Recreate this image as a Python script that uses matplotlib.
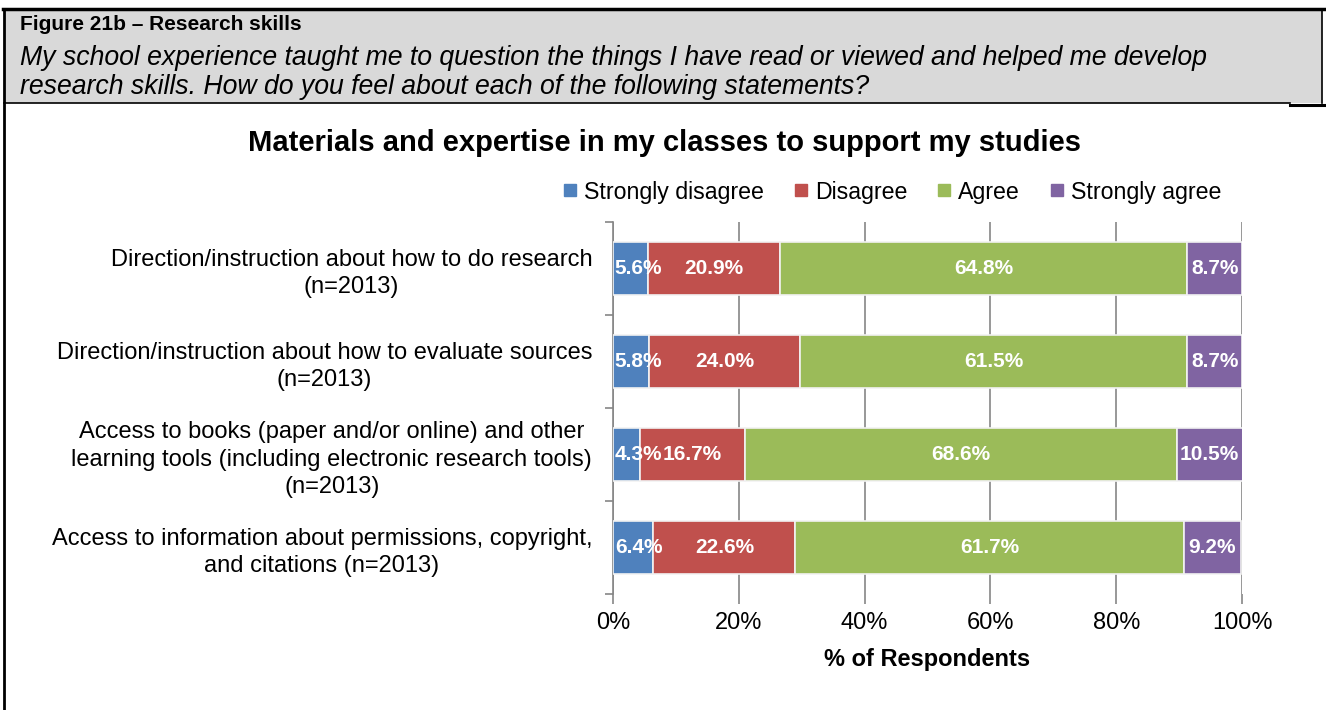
import matplotlib
matplotlib.use("Agg")
import matplotlib.pyplot as plt
from matplotlib.lines import Line2D
from matplotlib.patches import Rectangle
import numpy as np

plt.rcParams['font.family'] = ['Liberation Sans', 'DejaVu Sans']

categories = [
    "Direction/instruction about how to do research\n(n=2013)",
    "Direction/instruction about how to evaluate sources\n(n=2013)",
    "Access to books (paper and/or online) and other\nlearning tools (including electronic research tools)\n(n=2013)",
    "Access to information about permissions, copyright,\nand citations (n=2013)",
]
series_names = ["Strongly disagree", "Disagree", "Agree", "Strongly agree"]
strongly_disagree = [5.6, 5.8, 4.3, 6.4]
disagree = [20.9, 24.0, 16.7, 22.6]
agree = [64.8, 61.5, 68.6, 61.7]
strongly_agree = [8.7, 8.7, 10.5, 9.2]
colors = ["#4F81BD", "#C0504D", "#9BBB59", "#8064A2"]
xticks = [0, 20, 40, 60, 80, 100]
xtick_labels = ["0%", "20%", "40%", "60%", "80%", "100%"]

W, H = 1326, 710
fig = plt.figure(figsize=(W / 100, H / 100), dpi=100)

# Header box
fig.patches.append(Rectangle((4 / W, 1 - 103 / H), (1322 - 4) / W, (103 - 9) / H,
                             transform=fig.transFigure, facecolor="#D9D9D9",
                             edgecolor="none", zorder=0))
fig.add_artist(Line2D([3 / W, 1.0], [1 - 9 / H, 1 - 9 / H], color="black", lw=2.5, transform=fig.transFigure))
fig.add_artist(Line2D([4 / W, 4 / W], [0, 1 - 9 / H], color="black", lw=2, transform=fig.transFigure))
fig.add_artist(Line2D([4 / W, 1290 / W], [1 - 103 / H, 1 - 103 / H], color="black", lw=1.2, transform=fig.transFigure))
fig.add_artist(Line2D([1290 / W, 1.0], [1 - 104.5 / H, 1 - 104.5 / H], color="black", lw=2.2, transform=fig.transFigure))
fig.add_artist(Line2D([1322 / W, 1322 / W], [1 - 103 / H, 1 - 9 / H], color="black", lw=1.2, transform=fig.transFigure))

fig.text(20 / W, 1 - 24 / H, "Figure 21b – Research skills", fontsize=15, fontweight="bold",
         ha="left", va="center")
fig.text(20 / W, 1 - 58 / H,
         "My school experience taught me to question the things I have read or viewed and helped me develop",
         fontsize=19.2, style="italic", ha="left", va="center")
fig.text(20 / W, 1 - 87 / H,
         "research skills. How do you feel about each of the following statements?",
         fontsize=19.2, style="italic", ha="left", va="center")

# Chart title
fig.text(665 / W, 1 - 143 / H, "Materials and expertise in my classes to support my studies",
         fontsize=21, fontweight="bold", ha="center", va="center")

ax = fig.add_axes([613 / W, 1 - 594 / H, (1242 - 613) / W, (594 - 222) / H])

data = [strongly_disagree, disagree, agree, strongly_agree]
y = np.arange(len(categories))
left = np.zeros(len(categories))
handles = []
for vals, col, name in zip(data, colors, series_names):
    vals = np.array(vals)
    ax.barh(y, vals, left=left, height=0.56, color=col, edgecolor="#F2F2F2",
            linewidth=1.2, zorder=3, label=name)
    for yi, l, v in zip(y, left, vals):
        if l == 0 and v < 7.5:
            ax.text(l + 0.3, yi, f"{v:.1f}%", color="white", fontweight="bold",
                    fontsize=15, ha="left", va="center", zorder=4)
        else:
            ax.text(l + v / 2, yi, f"{v:.1f}%", color="white", fontweight="bold",
                    fontsize=15, ha="center", va="center", zorder=4)
    left = left + vals
    handles.append(Line2D([], [], marker="s", color=col, linestyle="none", markersize=8))

ax.set_xlim(0, 100)
ax.set_ylim(3.5, -0.5)
ax.set_xticks(xticks)
ax.set_xticklabels(xtick_labels, fontsize=17)
ax.set_yticks(y)
ax.set_yticklabels(categories, fontsize=17, multialignment="center", linespacing=1.3)
ax.set_yticks(np.arange(-0.5, 4, 1), minor=True)
ax.tick_params(axis="y", which="major", length=0, pad=15)
ax.tick_params(axis="y", which="minor", length=6, color="#868686", width=1.2)
ax.tick_params(axis="x", length=7, color="#868686", width=1.2, pad=6)
ax.xaxis.grid(True, color="#868686", linewidth=1.2, zorder=0)
ax.set_axisbelow(True)
for s in ["top", "right", "bottom"]:
    ax.spines[s].set_visible(False)
ax.spines["left"].set_color("#868686")
ax.spines["left"].set_linewidth(1.2)
ax.set_xlabel("% of Respondents", fontsize=17, fontweight="bold", labelpad=10)

fig.legend(handles, series_names, loc="center", bbox_to_anchor=(890 / W, 1 - 192 / H),
           ncol=4, frameon=False, fontsize=16.7, handletextpad=0.1, columnspacing=1.1,
           handlelength=1.0)

fig.savefig("out.png", dpi=100)
